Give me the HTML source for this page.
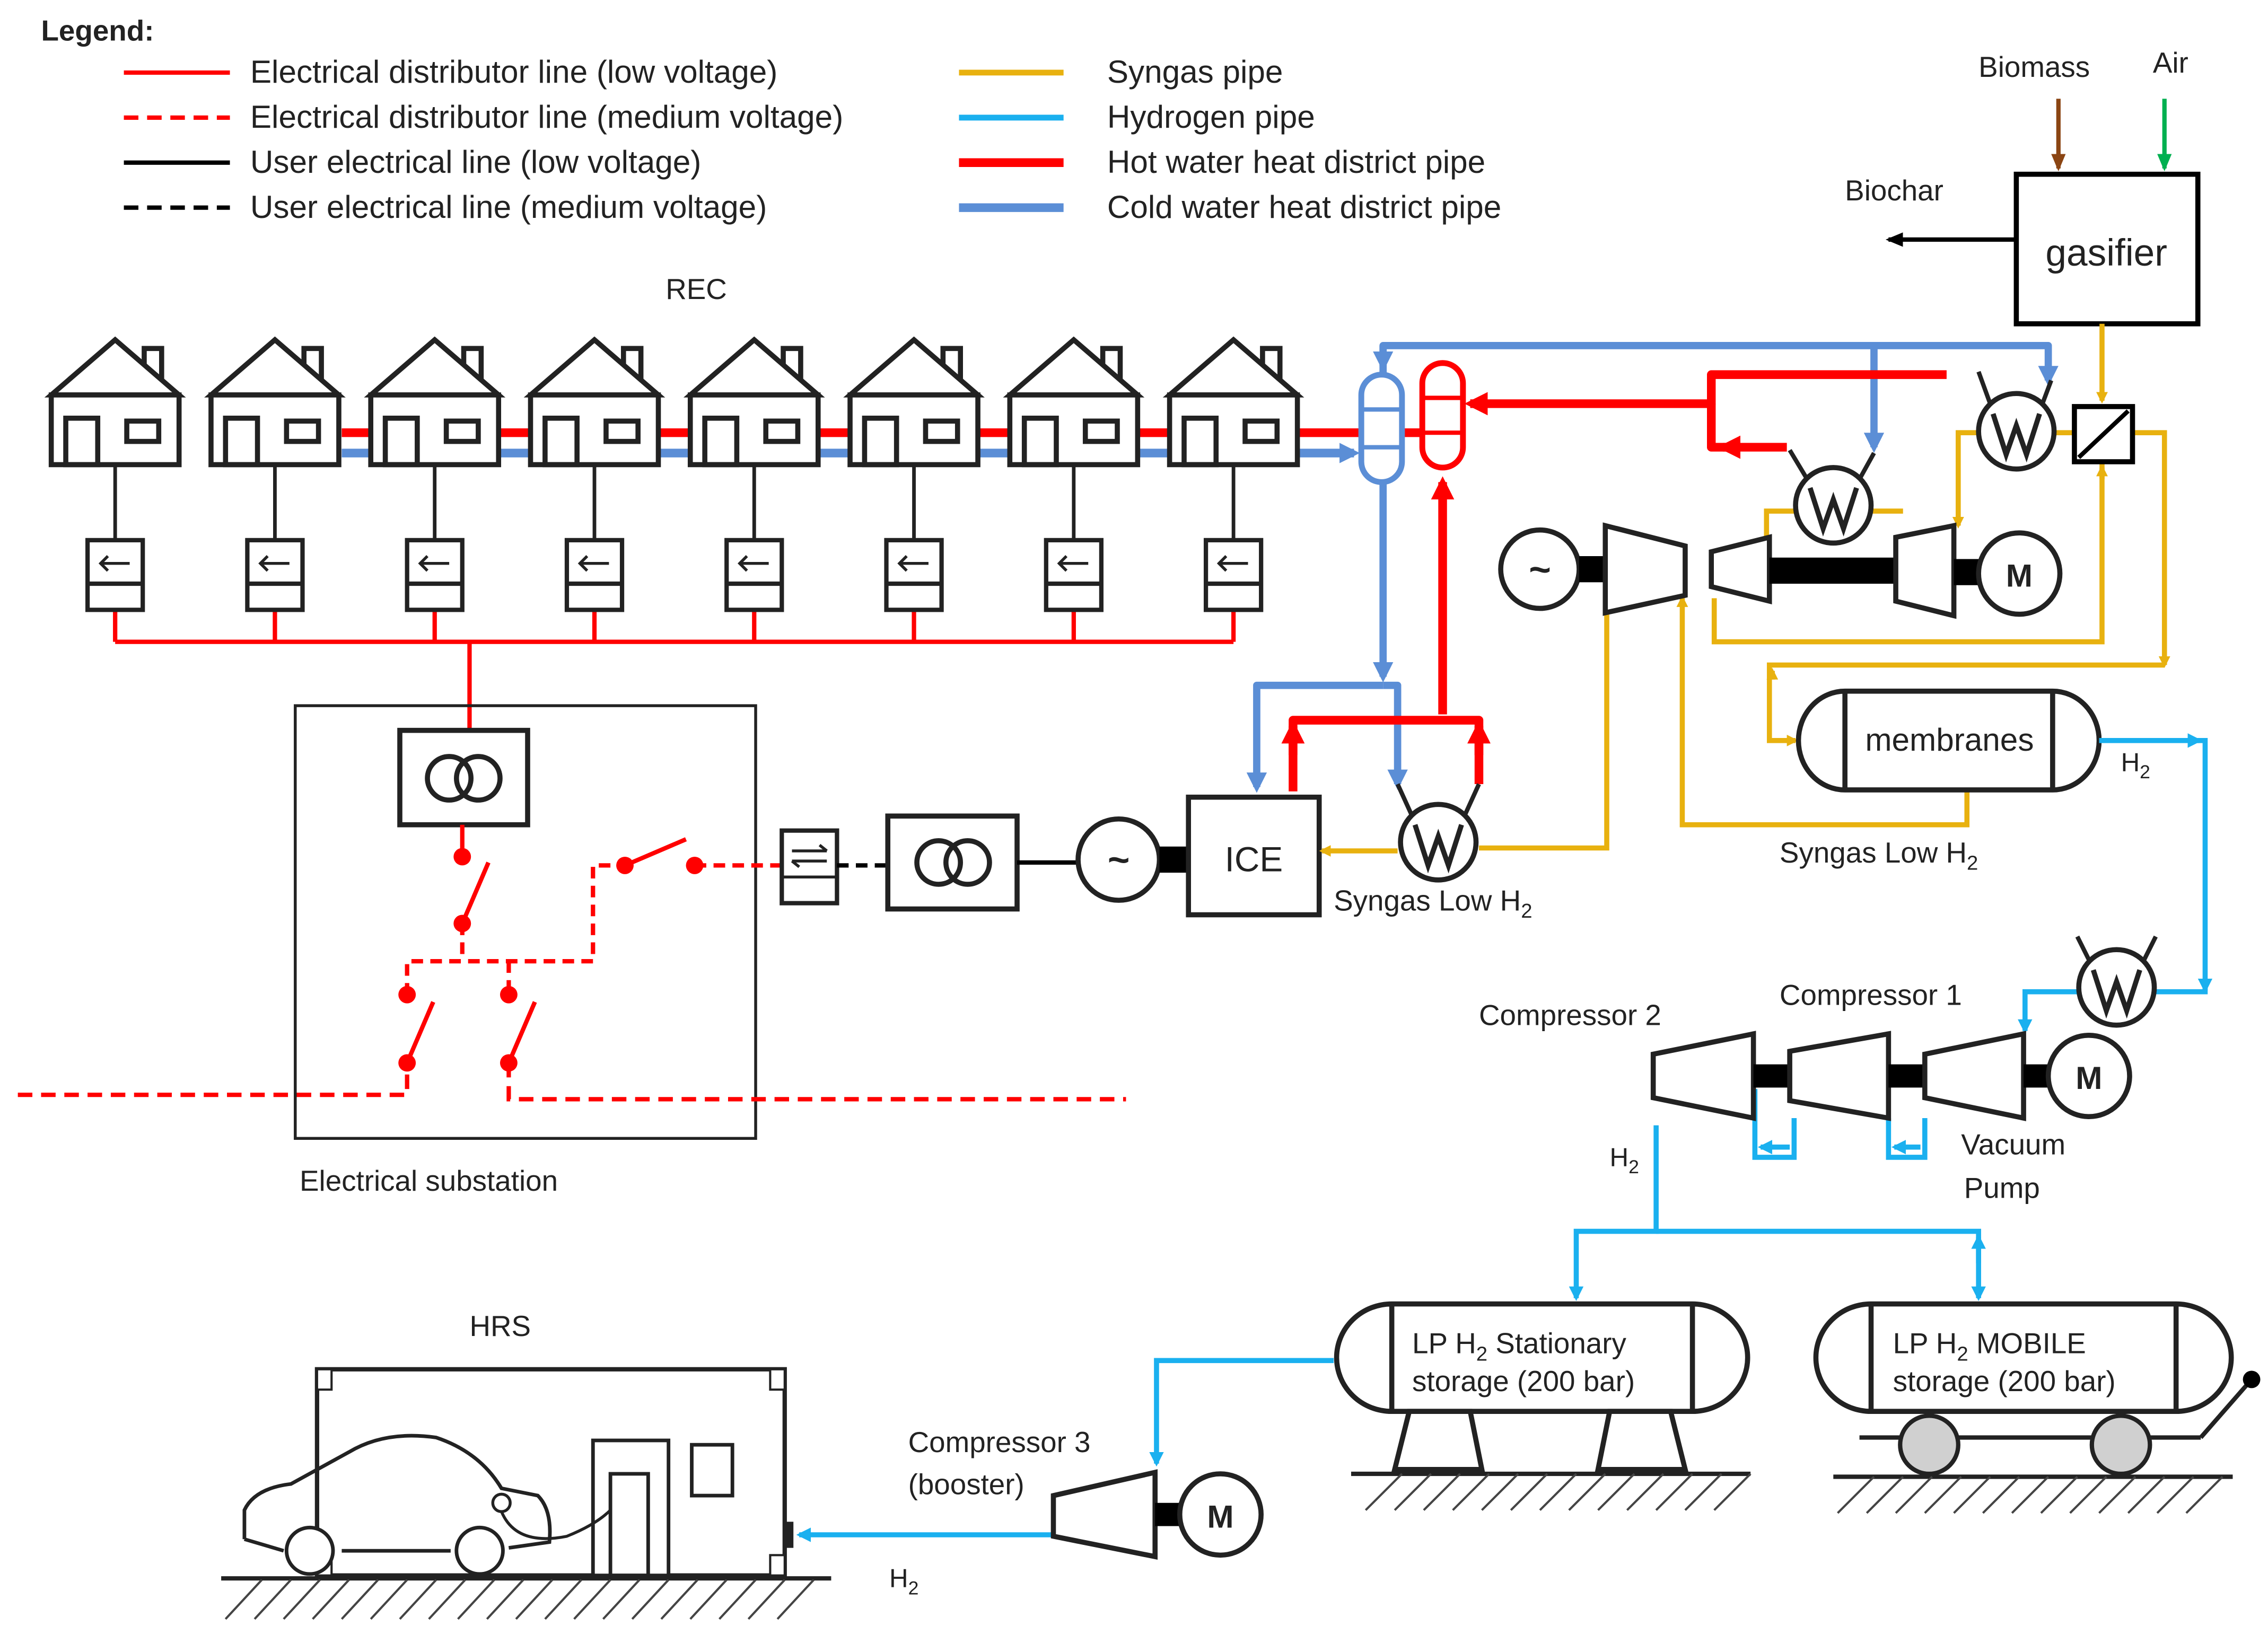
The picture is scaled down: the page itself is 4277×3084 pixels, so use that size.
<!DOCTYPE html>
<html><head><meta charset="utf-8"><style>
html,body{margin:0;padding:0;background:#fff}
svg{display:block}
text{font-family:"Liberation Sans",sans-serif;fill:#222}
</style></head><body>
<svg width="4277" height="3084" viewBox="0 0 1561 1126" xmlns="http://www.w3.org/2000/svg">
<defs>
<marker id="ay" markerWidth="8" markerHeight="8" refX="6" refY="4" orient="auto" markerUnits="userSpaceOnUse"><path d="M0,0 L8,4 L0,8z" fill="#E8B10F"/></marker>
<marker id="ac" markerWidth="10" markerHeight="10" refX="8" refY="5" orient="auto" markerUnits="userSpaceOnUse"><path d="M0,0 L10,5 L0,10z" fill="#1AB0EF"/></marker>
<marker id="ab" markerWidth="14" markerHeight="14" refX="10" refY="7" orient="auto" markerUnits="userSpaceOnUse"><path d="M0,0 L14,7 L0,14z" fill="#5B8ED6"/></marker>
<marker id="ar" markerWidth="16" markerHeight="16" refX="12" refY="8" orient="auto" markerUnits="userSpaceOnUse"><path d="M0,0 L16,8 L0,16z" fill="#f00"/></marker>
<marker id="ak" markerWidth="12" markerHeight="10" refX="10" refY="5" orient="auto" markerUnits="userSpaceOnUse"><path d="M0,0 L12,5 L0,10z" fill="#000"/></marker>
<marker id="abr" markerWidth="12" markerHeight="10" refX="10" refY="5" orient="auto" markerUnits="userSpaceOnUse"><path d="M0,0 L12,5 L0,10z" fill="#8B4513"/></marker>
<marker id="ag" markerWidth="12" markerHeight="10" refX="10" refY="5" orient="auto" markerUnits="userSpaceOnUse"><path d="M0,0 L12,5 L0,10z" fill="#00B050"/></marker>
<g id="house" stroke="#222" stroke-width="3.5">
<path d="M20,251 L20,240 L32,240 L32,262" fill="#fff"/>
<path d="M-44,272 L0,234 L44,272z" fill="#fff"/>
<rect x="-44" y="272" width="88" height="48" fill="#fff"/><rect x="-34" y="288" width="22" height="32" fill="none"/><rect x="8" y="290" width="22" height="14" fill="none"/>
</g>
<g id="meter" fill="#fff" stroke="#222" stroke-width="3">
<rect x="-19" y="372" width="38" height="48"/><line x1="-19" y1="402" x2="19" y2="402"/>
<path d="M10,388 L-10,388 M-5,383 L-10,388 L-5,393" stroke-width="2"/>
</g>
<g id="wx" fill="#fff" stroke="#222" stroke-width="3.5">
<circle r="26"/><path d="M-16,-12 L-7,16 L0,-4 L7,16 L16,-12" fill="none"/>
</g>
</defs>

<!-- Legend -->
<text x="28" y="28" font-size="20" font-weight="bold">Legend:</text>
<line x1="85" y1="50" x2="158" y2="50" stroke="#f00" stroke-width="3"/>
<line x1="85" y1="81" x2="158" y2="81" stroke="#f00" stroke-width="3" stroke-dasharray="10,6"/>
<line x1="85" y1="112" x2="158" y2="112" stroke="#000" stroke-width="3"/>
<line x1="85" y1="143" x2="158" y2="143" stroke="#000" stroke-width="3" stroke-dasharray="10,6"/>
<g font-size="22"><text x="172" y="57">Electrical distributor line (low voltage)</text>
<text x="172" y="88">Electrical distributor line (medium voltage)</text>
<text x="172" y="119">User electrical line (low voltage)</text>
<text x="172" y="150">User electrical line (medium voltage)</text>
<text x="762" y="57">Syngas pipe</text><text x="762" y="88">Hydrogen pipe</text>
<text x="762" y="119">Hot water heat district pipe</text><text x="762" y="150">Cold water heat district pipe</text></g>
<line x1="660" y1="50" x2="732" y2="50" stroke="#E8B10F" stroke-width="4"/>
<line x1="660" y1="81" x2="732" y2="81" stroke="#1AB0EF" stroke-width="4"/>
<line x1="660" y1="112" x2="732" y2="112" stroke="#f00" stroke-width="6"/>
<line x1="660" y1="143" x2="732" y2="143" stroke="#5B8ED6" stroke-width="6"/>

<!-- Gasifier -->
<text x="1362" y="53" font-size="20">Biomass</text><text x="1482" y="50" font-size="20">Air</text>
<line x1="1417" y1="68" x2="1417" y2="116" stroke="#8B4513" stroke-width="3" marker-end="url(#abr)"/>
<line x1="1490" y1="68" x2="1490" y2="116" stroke="#00B050" stroke-width="3" marker-end="url(#ag)"/>
<rect x="1388" y="120" width="125" height="103" fill="#fff" stroke="#000" stroke-width="3.5"/>
<text x="1450" y="183" font-size="26" text-anchor="middle">gasifier</text>
<text x="1270" y="138" font-size="20">Biochar</text>
<line x1="1388" y1="165" x2="1300" y2="165" stroke="#000" stroke-width="3" marker-end="url(#ak)"/>

<!-- REC -->
<text x="458" y="206" font-size="20">REC</text>
<line x1="235" y1="298" x2="1000" y2="298" stroke="#f00" stroke-width="6"/>
<line x1="235" y1="312" x2="932" y2="312" stroke="#5B8ED6" stroke-width="6" marker-end="url(#ab)"/>
<line x1="79" y1="442" x2="849" y2="442" stroke="#f00" stroke-width="3"/>
<line x1="323" y1="442" x2="323" y2="503" stroke="#f00" stroke-width="3"/>
<g>
<use href="#house" x="79"/><use href="#house" x="189"/><use href="#house" x="299"/><use href="#house" x="409"/>
<use href="#house" x="519"/><use href="#house" x="629"/><use href="#house" x="739"/><use href="#house" x="849"/>
</g>
<g stroke="#222" stroke-width="2.5">
<line x1="79" y1="320" x2="79" y2="372"/><line x1="189" y1="320" x2="189" y2="372"/><line x1="299" y1="320" x2="299" y2="372"/><line x1="409" y1="320" x2="409" y2="372"/>
<line x1="519" y1="320" x2="519" y2="372"/><line x1="629" y1="320" x2="629" y2="372"/><line x1="739" y1="320" x2="739" y2="372"/><line x1="849" y1="320" x2="849" y2="372"/>
</g>
<g stroke="#f00" stroke-width="3">
<line x1="79" y1="420" x2="79" y2="442"/><line x1="189" y1="420" x2="189" y2="442"/><line x1="299" y1="420" x2="299" y2="442"/><line x1="409" y1="420" x2="409" y2="442"/>
<line x1="519" y1="420" x2="519" y2="442"/><line x1="629" y1="420" x2="629" y2="442"/><line x1="739" y1="420" x2="739" y2="442"/><line x1="849" y1="420" x2="849" y2="442"/>
</g>
<use href="#meter" x="79"/><use href="#meter" x="189"/><use href="#meter" x="299"/><use href="#meter" x="409"/>
<use href="#meter" x="519"/><use href="#meter" x="629"/><use href="#meter" x="739"/><use href="#meter" x="849"/>

<!-- Substation -->
<rect x="203" y="486" width="317" height="298" fill="none" stroke="#222" stroke-width="2"/>
<rect x="275" y="503" width="88" height="65" fill="#fff" stroke="#222" stroke-width="3.5"/>
<circle cx="309" cy="536" r="15" fill="none" stroke="#222" stroke-width="3.5"/><circle cx="329" cy="536" r="15" fill="none" stroke="#222" stroke-width="3.5"/>
<g stroke="#f00" stroke-width="3" fill="none">
<line x1="318" y1="568" x2="318" y2="590"/>
<line x1="318" y1="636" x2="336" y2="594"/><line x1="318" y1="636" x2="318" y2="662" stroke-dasharray="8,5"/>
<path d="M280,685 L280,662 L408,662 L408,596 L430,596" stroke-dasharray="8,5"/><line x1="350" y1="662" x2="350" y2="685" stroke-dasharray="8,5"/>
<line x1="430" y1="596" x2="472" y2="578"/><line x1="478" y1="596" x2="538" y2="596" stroke-dasharray="8,5"/>
<line x1="280" y1="732" x2="298" y2="690"/><line x1="350" y1="732" x2="368" y2="690"/>
<path d="M12,754 L280,754 L280,732" stroke-dasharray="10,6"/><path d="M350,732 L350,757 L775,757" stroke-dasharray="10,6"/>
</g>
<g fill="#f00"><circle cx="318" cy="590" r="6"/><circle cx="318" cy="636" r="6"/><circle cx="430" cy="596" r="6"/><circle cx="478" cy="596" r="6"/>
<circle cx="280" cy="685" r="6"/><circle cx="350" cy="685" r="6"/><circle cx="280" cy="732" r="6"/><circle cx="350" cy="732" r="6"/></g>
<text x="206" y="820" font-size="20">Electrical substation</text>

<!-- meter + transformer + gen + ICE -->
<rect x="538" y="572" width="38" height="50" fill="#fff" stroke="#222" stroke-width="3"/>
<line x1="538" y1="604" x2="576" y2="604" stroke="#222" stroke-width="2"/>
<path d="M545,586 L569,586 M564,582 L569,586 M545,593 L569,593 M550,597 L545,593" stroke="#222" stroke-width="2" fill="none"/>
<line x1="576" y1="596" x2="611" y2="596" stroke="#000" stroke-width="3" stroke-dasharray="8,5"/>
<rect x="611" y="562" width="89" height="64" fill="#fff" stroke="#222" stroke-width="3.5"/>
<circle cx="646" cy="594" r="15" fill="none" stroke="#222" stroke-width="3.5"/><circle cx="666" cy="594" r="15" fill="none" stroke="#222" stroke-width="3.5"/>
<line x1="700" y1="594" x2="742" y2="594" stroke="#000" stroke-width="3"/>
<circle cx="770" cy="592" r="28" fill="#fff" stroke="#222" stroke-width="3.5"/><text x="770" y="601" font-size="26" text-anchor="middle" font-weight="bold">~</text>
<rect x="798" y="583" width="20" height="18" fill="#000"/>
<rect x="818" y="549" width="90" height="81" fill="#fff" stroke="#222" stroke-width="3.5"/>
<text x="863" y="600" font-size="24" text-anchor="middle">ICE</text>

<!-- district heating vessels & pipes -->
<g fill="none" stroke-linejoin="round">
<path d="M952,258 L952,238 L1410,238 L1410,262" stroke="#5B8ED6" stroke-width="5" marker-end="url(#ab)"/>
<path d="M952,238 L952,252" stroke="#5B8ED6" stroke-width="5" marker-end="url(#ab)"/>
<path d="M1290,238 L1290,308" stroke="#5B8ED6" stroke-width="5" marker-end="url(#ab)"/>
<path d="M952,332 L952,466" stroke="#5B8ED6" stroke-width="5" marker-end="url(#ab)"/>
<path d="M952,472 L865,472 L865,542" stroke="#5B8ED6" stroke-width="5" marker-end="url(#ab)"/>
<path d="M952,472 L962,472 L962,540" stroke="#5B8ED6" stroke-width="5" marker-end="url(#ab)"/>
<path d="M1340,258 L1178,258 L1178,278 L1012,278" stroke="#f00" stroke-width="6" marker-end="url(#ar)"/>
<path d="M1178,278 L1178,308 L1230,308" stroke="#f00" stroke-width="6"/>
<path d="M1192,308 L1186,308" stroke="#f00" stroke-width="6" marker-end="url(#ar)"/>
<path d="M993,492 L993,332" stroke="#f00" stroke-width="6" marker-end="url(#ar)"/>
<path d="M890,545 L890,496 L1018,496 L1018,540" stroke="#f00" stroke-width="6"/>
<path d="M890,520 L890,500" stroke="#f00" stroke-width="6" marker-end="url(#ar)"/>
<path d="M1018,520 L1018,500" stroke="#f00" stroke-width="6" marker-end="url(#ar)"/>
</g>
<rect x="937" y="258" width="28" height="74" rx="14" fill="#fff" stroke="#5B8ED6" stroke-width="4"/>
<line x1="937" y1="282" x2="965" y2="282" stroke="#5B8ED6" stroke-width="3"/><line x1="937" y1="308" x2="965" y2="308" stroke="#5B8ED6" stroke-width="3"/>
<rect x="979" y="250" width="28" height="72" rx="14" fill="#fff" stroke="#f00" stroke-width="4"/>
<line x1="979" y1="274" x2="1007" y2="274" stroke="#f00" stroke-width="3"/><line x1="979" y1="298" x2="1007" y2="298" stroke="#f00" stroke-width="3"/>

<!-- syngas pipes -->
<g fill="none" stroke="#E8B10F" stroke-width="3.5">
<path d="M1447,223 L1447,276" marker-end="url(#ay)"/>
<path d="M1468,298 L1490,298 L1490,458" marker-end="url(#ay)"/>
<path d="M1428,298 L1412,298"/>
<path d="M1364,298 L1348,298 L1348,362" marker-end="url(#ay)"/>
<path d="M1447,318 L1447,442 L1180,442 L1180,412"/>
<path d="M1447,330 L1447,322" marker-end="url(#ay)"/>
<path d="M1490,458 L1218,458 L1218,510 L1236,510" marker-end="url(#ay)"/>
<path d="M1220,468 L1220,462" marker-end="url(#ay)"/>
<path d="M1354,544 L1354,568 L1158,568 L1158,412" marker-end="url(#ay)"/>
<path d="M1240,352 L1216,352 L1216,380"/>
<path d="M1285,352 L1310,352"/>
<path d="M1106,422 L1106,584 L1018,584"/>
<path d="M962,586 L910,586" marker-end="url(#ay)"/>
</g>
<use href="#wx" x="1388" y="297"/>
<use href="#wx" x="1262" y="348"/>
<use href="#wx" x="990" y="580"/>
<g stroke="#222" stroke-width="3"><line x1="1370" y1="278" x2="1362" y2="256"/><line x1="1406" y1="278" x2="1412" y2="262"/>
<line x1="1244" y1="330" x2="1232" y2="310"/><line x1="1280" y1="330" x2="1290" y2="312"/>
<line x1="972" y1="562" x2="962" y2="540"/><line x1="1008" y1="562" x2="1018" y2="540"/>
<line x1="1440" y1="665" x2="1430" y2="645"/><line x1="1474" y1="665" x2="1484" y2="645"/></g>
<rect x="1428" y="280" width="40" height="38" fill="#fff" stroke="#000" stroke-width="3.5"/>
<line x1="1431" y1="315" x2="1465" y2="283" stroke="#000" stroke-width="3"/>

<!-- gas turbine -->
<circle cx="1060" cy="392" r="27" fill="#fff" stroke="#222" stroke-width="3.5"/><text x="1060" y="401" font-size="26" text-anchor="middle" font-weight="bold">~</text>
<rect x="1087" y="383" width="18" height="18" fill="#000"/>
<path d="M1105,362 L1160,376 L1160,410 L1105,422z" fill="#fff" stroke="#222" stroke-width="3.5"/>
<path d="M1178,380 L1218,370 L1218,414 L1178,404z" fill="#fff" stroke="#222" stroke-width="3.5"/>
<rect x="1218" y="384" width="87" height="18" fill="#000"/>
<path d="M1305,370 L1345,362 L1345,424 L1305,414z" fill="#fff" stroke="#222" stroke-width="3.5"/>
<rect x="1345" y="385" width="18" height="18" fill="#000"/>
<circle cx="1390" cy="395" r="28" fill="#fff" stroke="#222" stroke-width="3.5"/><text x="1390" y="404" font-size="22" text-anchor="middle" font-weight="bold">M</text>

<!-- membranes -->
<path d="M1270,476 L1413,476 A32,34 0 0 1 1413,544 L1270,544 A32,34 0 0 1 1270,476z" fill="#fff" stroke="#222" stroke-width="3.5"/>
<line x1="1270" y1="476" x2="1270" y2="544" stroke="#222" stroke-width="3.5"/><line x1="1413" y1="476" x2="1413" y2="544" stroke="#222" stroke-width="3.5"/>
<text x="1342" y="517" font-size="22" text-anchor="middle">membranes</text>
<text x="918" y="627" font-size="20">Syngas Low H<tspan font-size="14" dy="5">2</tspan></text>
<text x="1225" y="594" font-size="20">Syngas Low H<tspan font-size="14" dy="5">2</tspan></text>
<text x="1460" y="531" font-size="18">H<tspan font-size="13" dy="5">2</tspan></text>

<!-- hydrogen -->
<g fill="none" stroke="#1AB0EF" stroke-width="3.5">
<path d="M1445,510 L1518,510 L1518,683 L1484,683"/>
<path d="M1512,510 L1514,510" marker-end="url(#ac)"/><path d="M1518,675 L1518,682" marker-end="url(#ac)"/>
<path d="M1430,683 L1394,683 L1394,710" marker-end="url(#ac)"/>
<path d="M1140,775 L1140,848 L1085,848 L1085,894" marker-end="url(#ac)"/>
<path d="M1140,848 L1362,848 L1362,894" marker-end="url(#ac)"/>
<path d="M1362,870 L1362,852" marker-end="url(#ac)"/>
<path d="M918,937 L796,937 L796,1008" marker-end="url(#ac)"/>
<path d="M725,1057 L550,1057" marker-end="url(#ac)"/>
<path d="M1208,750 L1208,797 L1235,797 L1235,770"/>
<path d="M1232,790 L1212,790" marker-end="url(#ac)"/>
<path d="M1300,770 L1300,797 L1325,797 L1325,770"/>
<path d="M1322,790 L1304,790" marker-end="url(#ac)"/>
</g>
<use href="#wx" x="1457" y="680"/>
<text x="1225" y="692" font-size="20">Compressor 1</text>
<text x="1018" y="706" font-size="20">Compressor 2</text>
<path d="M1138,726 L1207,712 L1207,770 L1138,756z" fill="#fff" stroke="#222" stroke-width="3.5"/>
<rect x="1207" y="733" width="25" height="16" fill="#000"/>
<path d="M1232,724 L1300,712 L1300,770 L1232,758z" fill="#fff" stroke="#222" stroke-width="3.5"/>
<rect x="1300" y="733" width="25" height="16" fill="#000"/>
<path d="M1325,726 L1393,712 L1393,770 L1325,756z" fill="#fff" stroke="#222" stroke-width="3.5"/>
<rect x="1393" y="733" width="18" height="16" fill="#000"/>
<circle cx="1438" cy="741" r="28" fill="#fff" stroke="#222" stroke-width="3.5"/><text x="1438" y="750" font-size="22" text-anchor="middle" font-weight="bold">M</text>
<text x="1350" y="795" font-size="20">Vacuum</text><text x="1352" y="825" font-size="20">Pump</text>
<text x="1108" y="803" font-size="18">H<tspan font-size="13" dy="5">2</tspan></text>

<!-- stationary storage -->
<path d="M958,898 L1165,898 A38,37 0 0 1 1165,972 L958,972 A38,37 0 0 1 958,898z" fill="#fff" stroke="#222" stroke-width="3.5"/>
<line x1="958" y1="898" x2="958" y2="972" stroke="#222" stroke-width="3.5"/><line x1="1165" y1="898" x2="1165" y2="972" stroke="#222" stroke-width="3.5"/>
<text x="972" y="932" font-size="20">LP  H<tspan font-size="14" dy="5">2</tspan><tspan dy="-5">  Stationary</tspan></text>
<text x="972" y="958" font-size="20">storage (200 bar)</text>
<path d="M970,972 L1012,972 L1020,1012 L960,1012z" fill="#fff" stroke="#222" stroke-width="3.5"/>
<path d="M1108,972 L1150,972 L1160,1012 L1100,1012z" fill="#fff" stroke="#222" stroke-width="3.5"/>
<line x1="930" y1="1015" x2="1205" y2="1015" stroke="#222" stroke-width="3"/>
<path d="M940,1040 L965,1015 M960,1040 L985,1015 M980,1040 L1005,1015 M1000,1040 L1025,1015 M1020,1040 L1045,1015 M1040,1040 L1065,1015 M1060,1040 L1085,1015 M1080,1040 L1105,1015 M1100,1040 L1125,1015 M1120,1040 L1145,1015 M1140,1040 L1165,1015 M1160,1040 L1185,1015 M1180,1040 L1205,1015" stroke="#444" stroke-width="1.5"/>

<!-- mobile storage -->
<path d="M1288,898 L1498,898 A38,37 0 0 1 1498,972 L1288,972 A38,37 0 0 1 1288,898z" fill="#fff" stroke="#222" stroke-width="3.5"/>
<line x1="1288" y1="898" x2="1288" y2="972" stroke="#222" stroke-width="3.5"/><line x1="1498" y1="898" x2="1498" y2="972" stroke="#222" stroke-width="3.5"/>
<text x="1303" y="932" font-size="20">LP   H<tspan font-size="14" dy="5">2</tspan><tspan dy="-5">   MOBILE</tspan></text>
<text x="1303" y="958" font-size="20">storage (200 bar)</text>
<line x1="1280" y1="990" x2="1515" y2="990" stroke="#222" stroke-width="3"/>
<line x1="1515" y1="990" x2="1550" y2="950" stroke="#222" stroke-width="3"/><circle cx="1550" cy="950" r="6" fill="#000"/>
<circle cx="1328" cy="995" r="20" fill="#d0d0d0" stroke="#222" stroke-width="3"/><circle cx="1460" cy="995" r="20" fill="#d0d0d0" stroke="#222" stroke-width="3"/>
<line x1="1262" y1="1017" x2="1537" y2="1017" stroke="#222" stroke-width="3"/>
<path d="M1265,1042 L1290,1017 M1285,1042 L1310,1017 M1305,1042 L1330,1017 M1325,1042 L1350,1017 M1345,1042 L1370,1017 M1365,1042 L1390,1017 M1385,1042 L1410,1017 M1405,1042 L1430,1017 M1425,1042 L1450,1017 M1445,1042 L1470,1017 M1465,1042 L1490,1017 M1485,1042 L1510,1017 M1505,1042 L1530,1017" stroke="#444" stroke-width="1.5"/>

<!-- compressor 3 -->
<text x="625" y="1000" font-size="20">Compressor 3</text><text x="625" y="1029" font-size="20">(booster)</text>
<path d="M725,1030 L795,1014 L795,1072 L725,1058z" fill="#fff" stroke="#222" stroke-width="3.5"/>
<rect x="795" y="1035" width="18" height="16" fill="#000"/>
<circle cx="840" cy="1043" r="28" fill="#fff" stroke="#222" stroke-width="3.5"/><text x="840" y="1052" font-size="22" text-anchor="middle" font-weight="bold">M</text>
<text x="612" y="1093" font-size="18">H<tspan font-size="13" dy="5">2</tspan></text>

<!-- HRS -->
<text x="323" y="920" font-size="20">HRS</text>
<rect x="218" y="943" width="322" height="142" fill="none" stroke="#222" stroke-width="3"/>
<rect x="218" y="943" width="10" height="14" fill="#fff" stroke="#222" stroke-width="1.5"/><rect x="530" y="943" width="10" height="14" fill="#fff" stroke="#222" stroke-width="1.5"/>
<rect x="218" y="1071" width="10" height="14" fill="#fff" stroke="#222" stroke-width="1.5"/><rect x="530" y="1071" width="10" height="14" fill="#fff" stroke="#222" stroke-width="1.5"/>
<rect x="540" y="1048" width="6" height="18" fill="#222"/>
<rect x="408" y="992" width="52" height="93" fill="#fff" stroke="#222" stroke-width="2.5"/>
<rect x="420" y="1015" width="26" height="70" fill="none" stroke="#222" stroke-width="2.5"/>
<rect x="476" y="995" width="28" height="35" fill="none" stroke="#222" stroke-width="2.5"/>
<path d="M168,1060 L168,1040 Q175,1025 200,1022 L240,1000 Q265,985 300,990 Q330,1000 345,1025 L370,1030 Q380,1040 378,1062 L350,1066 M310,1068 L235,1068 M195,1068 L168,1060" fill="none" stroke="#222" stroke-width="2.5"/>
<circle cx="213" cy="1068" r="16" fill="#fff" stroke="#222" stroke-width="2.5"/><circle cx="330" cy="1068" r="16" fill="#fff" stroke="#222" stroke-width="2.5"/>
<circle cx="345" cy="1035" r="6" fill="none" stroke="#222" stroke-width="2"/>
<path d="M345,1041 Q355,1065 390,1058 Q410,1050 420,1040" fill="none" stroke="#222" stroke-width="2"/>
<line x1="152" y1="1087" x2="572" y2="1087" stroke="#222" stroke-width="3"/>
<path d="M155,1115 L180,1088 M175,1115 L200,1088 M195,1115 L220,1088 M215,1115 L240,1088 M235,1115 L260,1088 M255,1115 L280,1088 M275,1115 L300,1088 M295,1115 L320,1088 M315,1115 L340,1088 M335,1115 L360,1088 M355,1115 L380,1088 M375,1115 L400,1088 M395,1115 L420,1088 M415,1115 L440,1088 M435,1115 L460,1088 M455,1115 L480,1088 M475,1115 L500,1088 M495,1115 L520,1088 M515,1115 L540,1088 M535,1115 L560,1088" stroke="#444" stroke-width="1.5"/>
</svg>
</body></html>
